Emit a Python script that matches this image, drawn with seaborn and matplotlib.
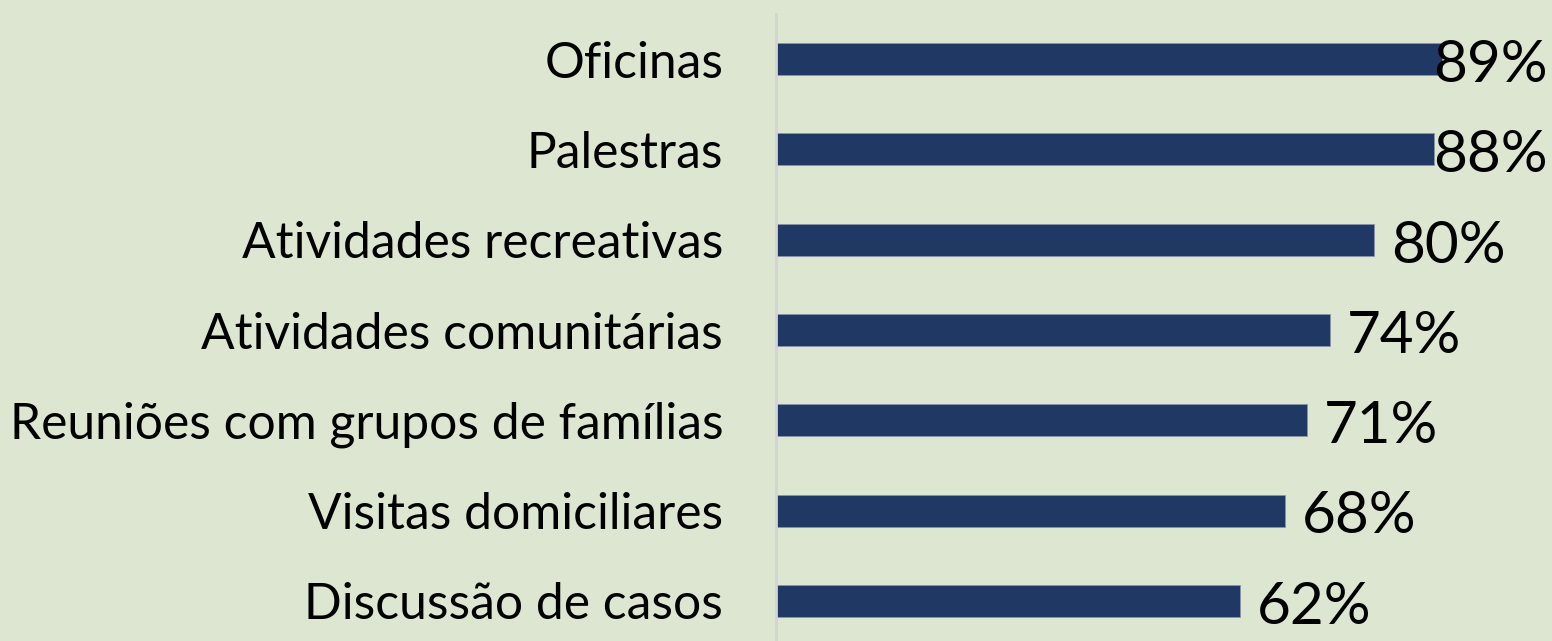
import matplotlib
matplotlib.use("Agg")
import matplotlib.pyplot as plt
import seaborn as sns
import pandas as pd

categorias = [
    "Oficinas",
    "Palestras",
    "Atividades recreativas",
    "Atividades comunitárias",
    "Reuniões com grupos de famílias",
    "Visitas domiciliares",
    "Discussão de casos",
]
valores = [89, 88, 80, 74, 71, 68, 62]
rotulos = ["89%", "88%", "80%", "74%", "71%", "68%", "62%"]

fundo = "#dce6d0"
cor_barra = "#203864"

sns.set_theme(style="white")
plt.rcParams["font.family"] = ["Lato", "DejaVu Sans"]

df = pd.DataFrame({"categoria": categorias, "valor": valores})

fig = plt.figure(figsize=(15.52, 6.41), dpi=100, facecolor=fundo)
ax = fig.add_axes([776 / 1552, -5 / 641, 776 / 1552, 632 / 641])
ax.set_facecolor(fundo)

sns.barplot(data=df, x="valor", y="categoria", color=cor_barra, width=0.355,
            saturation=1, ax=ax, edgecolor="#8a94a8", linewidth=0.6)

px = 7.48  # pixels por ponto percentual
xmax = 776 / px
ax.set_xlim(0, xmax)
ax.set_xlabel("")
ax.set_ylabel("")
ax.set_xticks([])
ax.tick_params(axis="y", length=0, pad=38, labelsize=35.8, labelcolor="black")

for s in ["top", "right", "bottom"]:
    ax.spines[s].set_visible(False)
ax.spines["left"].set_color("#d4d4d4")
ax.spines["left"].set_linewidth(2)

# rótulos de valor: afastados da barra; os que não cabem ficam encostados à direita
limite = (1548 - 776) / px
for i, (v, r) in enumerate(zip(valores, rotulos)):
    x = v + 17 / px
    if x + 108 / px > limite:
        ax.text(limite, i + 0.07, r, fontsize=42, va="center", ha="right",
                color="black", clip_on=False)
    else:
        ax.text(x, i + 0.07, r, fontsize=42, va="center", ha="left",
                color="black", clip_on=False)

fig.savefig("out.png", dpi=100, facecolor=fundo)
